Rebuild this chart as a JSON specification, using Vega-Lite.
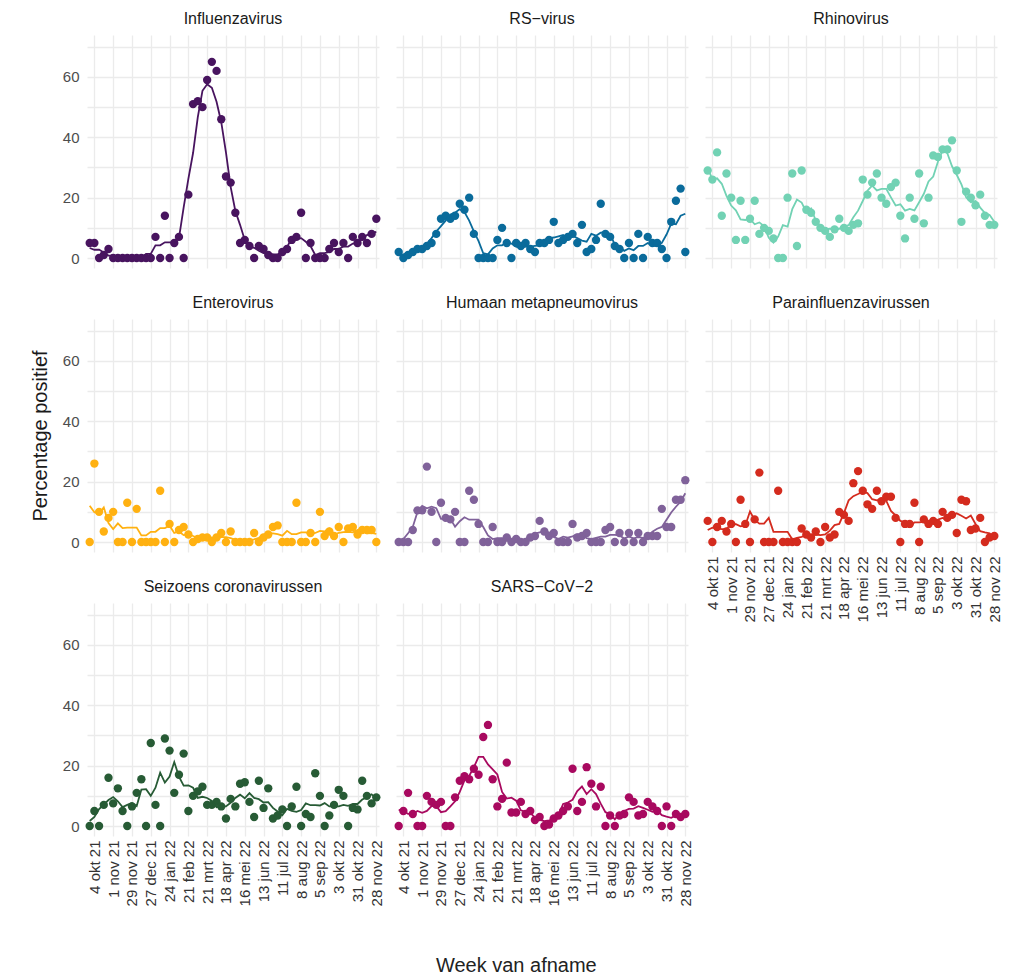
{
  "$schema": "https://vega.github.io/schema/vega-lite/v6.json",
  "datasets": {
    "d": [
{"virus":"Influenzavirus","week":"2021/09/27","pct":5},{"virus":"Influenzavirus","week":"2021/10/04","pct":5},{"virus":"Influenzavirus","week":"2021/10/11","pct":0},{"virus":"Influenzavirus","week":"2021/10/18","pct":1},{"virus":"Influenzavirus","week":"2021/10/25","pct":3},{"virus":"Influenzavirus","week":"2021/11/01","pct":0},{"virus":"Influenzavirus","week":"2021/11/08","pct":0},{"virus":"Influenzavirus","week":"2021/11/15","pct":0},{"virus":"Influenzavirus","week":"2021/11/22","pct":0},{"virus":"Influenzavirus","week":"2021/11/29","pct":0},{"virus":"Influenzavirus","week":"2021/12/06","pct":0},{"virus":"Influenzavirus","week":"2021/12/13","pct":0},{"virus":"Influenzavirus","week":"2021/12/20","pct":0},{"virus":"Influenzavirus","week":"2021/12/27","pct":0},{"virus":"Influenzavirus","week":"2022/01/03","pct":7},{"virus":"Influenzavirus","week":"2022/01/10","pct":0},{"virus":"Influenzavirus","week":"2022/01/17","pct":14},{"virus":"Influenzavirus","week":"2022/01/24","pct":0},{"virus":"Influenzavirus","week":"2022/01/31","pct":5},{"virus":"Influenzavirus","week":"2022/02/07","pct":7},{"virus":"Influenzavirus","week":"2022/02/14","pct":0},{"virus":"Influenzavirus","week":"2022/02/21","pct":21},{"virus":"Influenzavirus","week":"2022/02/28","pct":51},{"virus":"Influenzavirus","week":"2022/03/07","pct":52},{"virus":"Influenzavirus","week":"2022/03/14","pct":50},{"virus":"Influenzavirus","week":"2022/03/21","pct":59},{"virus":"Influenzavirus","week":"2022/03/28","pct":65},{"virus":"Influenzavirus","week":"2022/04/04","pct":62},{"virus":"Influenzavirus","week":"2022/04/11","pct":46},{"virus":"Influenzavirus","week":"2022/04/18","pct":27},{"virus":"Influenzavirus","week":"2022/04/25","pct":25},{"virus":"Influenzavirus","week":"2022/05/02","pct":15},{"virus":"Influenzavirus","week":"2022/05/09","pct":5},{"virus":"Influenzavirus","week":"2022/05/16","pct":6},{"virus":"Influenzavirus","week":"2022/05/23","pct":4},{"virus":"Influenzavirus","week":"2022/05/30","pct":0},{"virus":"Influenzavirus","week":"2022/06/06","pct":4},{"virus":"Influenzavirus","week":"2022/06/13","pct":3},{"virus":"Influenzavirus","week":"2022/06/20","pct":1},{"virus":"Influenzavirus","week":"2022/06/27","pct":0},{"virus":"Influenzavirus","week":"2022/07/04","pct":0},{"virus":"Influenzavirus","week":"2022/07/11","pct":2},{"virus":"Influenzavirus","week":"2022/07/18","pct":3},{"virus":"Influenzavirus","week":"2022/07/25","pct":6},{"virus":"Influenzavirus","week":"2022/08/01","pct":7},{"virus":"Influenzavirus","week":"2022/08/08","pct":15},{"virus":"Influenzavirus","week":"2022/08/15","pct":0},{"virus":"Influenzavirus","week":"2022/08/22","pct":5},{"virus":"Influenzavirus","week":"2022/08/29","pct":0},{"virus":"Influenzavirus","week":"2022/09/05","pct":0},{"virus":"Influenzavirus","week":"2022/09/12","pct":0},{"virus":"Influenzavirus","week":"2022/09/19","pct":3},{"virus":"Influenzavirus","week":"2022/09/26","pct":5},{"virus":"Influenzavirus","week":"2022/10/03","pct":2},{"virus":"Influenzavirus","week":"2022/10/10","pct":5},{"virus":"Influenzavirus","week":"2022/10/17","pct":0},{"virus":"Influenzavirus","week":"2022/10/24","pct":7},{"virus":"Influenzavirus","week":"2022/10/31","pct":5},{"virus":"Influenzavirus","week":"2022/11/07","pct":7},{"virus":"Influenzavirus","week":"2022/11/14","pct":5},{"virus":"Influenzavirus","week":"2022/11/21","pct":8},{"virus":"Influenzavirus","week":"2022/11/28","pct":13},
{"virus":"RS-virus","week":"2021/09/27","pct":2},{"virus":"RS-virus","week":"2021/10/04","pct":0},{"virus":"RS-virus","week":"2021/10/11","pct":1},{"virus":"RS-virus","week":"2021/10/18","pct":2},{"virus":"RS-virus","week":"2021/10/25","pct":3},{"virus":"RS-virus","week":"2021/11/01","pct":3},{"virus":"RS-virus","week":"2021/11/08","pct":4},{"virus":"RS-virus","week":"2021/11/15","pct":5},{"virus":"RS-virus","week":"2021/11/22","pct":8},{"virus":"RS-virus","week":"2021/11/29","pct":13},{"virus":"RS-virus","week":"2021/12/06","pct":14},{"virus":"RS-virus","week":"2021/12/13","pct":13},{"virus":"RS-virus","week":"2021/12/20","pct":14},{"virus":"RS-virus","week":"2021/12/27","pct":18},{"virus":"RS-virus","week":"2022/01/03","pct":16},{"virus":"RS-virus","week":"2022/01/10","pct":20},{"virus":"RS-virus","week":"2022/01/17","pct":8},{"virus":"RS-virus","week":"2022/01/24","pct":0},{"virus":"RS-virus","week":"2022/01/31","pct":0},{"virus":"RS-virus","week":"2022/02/07","pct":0},{"virus":"RS-virus","week":"2022/02/14","pct":0},{"virus":"RS-virus","week":"2022/02/21","pct":6},{"virus":"RS-virus","week":"2022/02/28","pct":10},{"virus":"RS-virus","week":"2022/03/07","pct":5},{"virus":"RS-virus","week":"2022/03/14","pct":0},{"virus":"RS-virus","week":"2022/03/21","pct":5},{"virus":"RS-virus","week":"2022/03/28","pct":4},{"virus":"RS-virus","week":"2022/04/04","pct":5},{"virus":"RS-virus","week":"2022/04/11","pct":3},{"virus":"RS-virus","week":"2022/04/18","pct":2},{"virus":"RS-virus","week":"2022/04/25","pct":5},{"virus":"RS-virus","week":"2022/05/02","pct":5},{"virus":"RS-virus","week":"2022/05/09","pct":6},{"virus":"RS-virus","week":"2022/05/16","pct":12},{"virus":"RS-virus","week":"2022/05/23","pct":5},{"virus":"RS-virus","week":"2022/05/30","pct":6},{"virus":"RS-virus","week":"2022/06/06","pct":7},{"virus":"RS-virus","week":"2022/06/13","pct":8},{"virus":"RS-virus","week":"2022/06/20","pct":5},{"virus":"RS-virus","week":"2022/06/27","pct":11},{"virus":"RS-virus","week":"2022/07/04","pct":2},{"virus":"RS-virus","week":"2022/07/11","pct":3},{"virus":"RS-virus","week":"2022/07/18","pct":6},{"virus":"RS-virus","week":"2022/07/25","pct":18},{"virus":"RS-virus","week":"2022/08/01","pct":8},{"virus":"RS-virus","week":"2022/08/08","pct":7},{"virus":"RS-virus","week":"2022/08/15","pct":4},{"virus":"RS-virus","week":"2022/08/22","pct":3},{"virus":"RS-virus","week":"2022/08/29","pct":0},{"virus":"RS-virus","week":"2022/09/05","pct":5},{"virus":"RS-virus","week":"2022/09/12","pct":0},{"virus":"RS-virus","week":"2022/09/19","pct":8},{"virus":"RS-virus","week":"2022/09/26","pct":0},{"virus":"RS-virus","week":"2022/10/03","pct":7},{"virus":"RS-virus","week":"2022/10/10","pct":5},{"virus":"RS-virus","week":"2022/10/17","pct":5},{"virus":"RS-virus","week":"2022/10/24","pct":3},{"virus":"RS-virus","week":"2022/10/31","pct":0},{"virus":"RS-virus","week":"2022/11/07","pct":12},{"virus":"RS-virus","week":"2022/11/14","pct":19},{"virus":"RS-virus","week":"2022/11/21","pct":23},{"virus":"RS-virus","week":"2022/11/28","pct":2},
{"virus":"Rhinovirus","week":"2021/09/27","pct":29},{"virus":"Rhinovirus","week":"2021/10/04","pct":26},{"virus":"Rhinovirus","week":"2021/10/11","pct":35},{"virus":"Rhinovirus","week":"2021/10/18","pct":14},{"virus":"Rhinovirus","week":"2021/10/25","pct":28},{"virus":"Rhinovirus","week":"2021/11/01","pct":20},{"virus":"Rhinovirus","week":"2021/11/08","pct":6},{"virus":"Rhinovirus","week":"2021/11/15","pct":19},{"virus":"Rhinovirus","week":"2021/11/22","pct":6},{"virus":"Rhinovirus","week":"2021/11/29","pct":13},{"virus":"Rhinovirus","week":"2021/12/06","pct":19},{"virus":"Rhinovirus","week":"2021/12/13","pct":8},{"virus":"Rhinovirus","week":"2021/12/20","pct":10},{"virus":"Rhinovirus","week":"2021/12/27","pct":9},{"virus":"Rhinovirus","week":"2022/01/03","pct":6.5},{"virus":"Rhinovirus","week":"2022/01/10","pct":0},{"virus":"Rhinovirus","week":"2022/01/17","pct":0},{"virus":"Rhinovirus","week":"2022/01/24","pct":20},{"virus":"Rhinovirus","week":"2022/01/31","pct":28},{"virus":"Rhinovirus","week":"2022/02/07","pct":4},{"virus":"Rhinovirus","week":"2022/02/14","pct":29},{"virus":"Rhinovirus","week":"2022/02/21","pct":16},{"virus":"Rhinovirus","week":"2022/02/28","pct":15},{"virus":"Rhinovirus","week":"2022/03/07","pct":12},{"virus":"Rhinovirus","week":"2022/03/14","pct":10},{"virus":"Rhinovirus","week":"2022/03/21","pct":9},{"virus":"Rhinovirus","week":"2022/03/28","pct":7},{"virus":"Rhinovirus","week":"2022/04/04","pct":9.5},{"virus":"Rhinovirus","week":"2022/04/11","pct":13},{"virus":"Rhinovirus","week":"2022/04/18","pct":10},{"virus":"Rhinovirus","week":"2022/04/25","pct":9},{"virus":"Rhinovirus","week":"2022/05/02","pct":11},{"virus":"Rhinovirus","week":"2022/05/09","pct":11.5},{"virus":"Rhinovirus","week":"2022/05/16","pct":26},{"virus":"Rhinovirus","week":"2022/05/23","pct":21},{"virus":"Rhinovirus","week":"2022/05/30","pct":25},{"virus":"Rhinovirus","week":"2022/06/06","pct":28},{"virus":"Rhinovirus","week":"2022/06/13","pct":20},{"virus":"Rhinovirus","week":"2022/06/20","pct":18},{"virus":"Rhinovirus","week":"2022/06/27","pct":23.5},{"virus":"Rhinovirus","week":"2022/07/04","pct":25},{"virus":"Rhinovirus","week":"2022/07/11","pct":14},{"virus":"Rhinovirus","week":"2022/07/18","pct":6.5},{"virus":"Rhinovirus","week":"2022/07/25","pct":20},{"virus":"Rhinovirus","week":"2022/08/01","pct":13},{"virus":"Rhinovirus","week":"2022/08/08","pct":28},{"virus":"Rhinovirus","week":"2022/08/15","pct":11.5},{"virus":"Rhinovirus","week":"2022/08/22","pct":20},{"virus":"Rhinovirus","week":"2022/08/29","pct":34},{"virus":"Rhinovirus","week":"2022/09/05","pct":33.5},{"virus":"Rhinovirus","week":"2022/09/12","pct":36},{"virus":"Rhinovirus","week":"2022/09/19","pct":36},{"virus":"Rhinovirus","week":"2022/09/26","pct":39},{"virus":"Rhinovirus","week":"2022/10/03","pct":29},{"virus":"Rhinovirus","week":"2022/10/10","pct":12},{"virus":"Rhinovirus","week":"2022/10/17","pct":22},{"virus":"Rhinovirus","week":"2022/10/24","pct":20},{"virus":"Rhinovirus","week":"2022/10/31","pct":17.5},{"virus":"Rhinovirus","week":"2022/11/07","pct":21},{"virus":"Rhinovirus","week":"2022/11/14","pct":14},{"virus":"Rhinovirus","week":"2022/11/21","pct":11},{"virus":"Rhinovirus","week":"2022/11/28","pct":11},
{"virus":"Enterovirus","week":"2021/09/27","pct":0},{"virus":"Enterovirus","week":"2021/10/04","pct":26},{"virus":"Enterovirus","week":"2021/10/11","pct":10},{"virus":"Enterovirus","week":"2021/10/18","pct":3.5},{"virus":"Enterovirus","week":"2021/10/25","pct":8},{"virus":"Enterovirus","week":"2021/11/01","pct":10},{"virus":"Enterovirus","week":"2021/11/08","pct":0},{"virus":"Enterovirus","week":"2021/11/15","pct":0},{"virus":"Enterovirus","week":"2021/11/22","pct":13},{"virus":"Enterovirus","week":"2021/11/29","pct":0},{"virus":"Enterovirus","week":"2021/12/06","pct":11},{"virus":"Enterovirus","week":"2021/12/13","pct":0},{"virus":"Enterovirus","week":"2021/12/20","pct":0},{"virus":"Enterovirus","week":"2021/12/27","pct":0},{"virus":"Enterovirus","week":"2022/01/03","pct":0},{"virus":"Enterovirus","week":"2022/01/10","pct":17},{"virus":"Enterovirus","week":"2022/01/17","pct":0},{"virus":"Enterovirus","week":"2022/01/24","pct":6},{"virus":"Enterovirus","week":"2022/01/31","pct":0},{"virus":"Enterovirus","week":"2022/02/07","pct":4},{"virus":"Enterovirus","week":"2022/02/14","pct":5},{"virus":"Enterovirus","week":"2022/02/21","pct":2.5},{"virus":"Enterovirus","week":"2022/02/28","pct":0},{"virus":"Enterovirus","week":"2022/03/07","pct":1},{"virus":"Enterovirus","week":"2022/03/14","pct":1.5},{"virus":"Enterovirus","week":"2022/03/21","pct":1.5},{"virus":"Enterovirus","week":"2022/03/28","pct":0},{"virus":"Enterovirus","week":"2022/04/04","pct":1.5},{"virus":"Enterovirus","week":"2022/04/11","pct":3},{"virus":"Enterovirus","week":"2022/04/18","pct":0},{"virus":"Enterovirus","week":"2022/04/25","pct":3.5},{"virus":"Enterovirus","week":"2022/05/02","pct":0},{"virus":"Enterovirus","week":"2022/05/09","pct":0},{"virus":"Enterovirus","week":"2022/05/16","pct":0},{"virus":"Enterovirus","week":"2022/05/23","pct":0},{"virus":"Enterovirus","week":"2022/05/30","pct":3},{"virus":"Enterovirus","week":"2022/06/06","pct":0},{"virus":"Enterovirus","week":"2022/06/13","pct":1.5},{"virus":"Enterovirus","week":"2022/06/20","pct":2.5},{"virus":"Enterovirus","week":"2022/06/27","pct":5},{"virus":"Enterovirus","week":"2022/07/04","pct":5.5},{"virus":"Enterovirus","week":"2022/07/11","pct":0},{"virus":"Enterovirus","week":"2022/07/18","pct":0},{"virus":"Enterovirus","week":"2022/07/25","pct":0},{"virus":"Enterovirus","week":"2022/08/01","pct":13},{"virus":"Enterovirus","week":"2022/08/08","pct":0},{"virus":"Enterovirus","week":"2022/08/15","pct":0},{"virus":"Enterovirus","week":"2022/08/22","pct":3},{"virus":"Enterovirus","week":"2022/08/29","pct":0},{"virus":"Enterovirus","week":"2022/09/05","pct":10},{"virus":"Enterovirus","week":"2022/09/12","pct":2},{"virus":"Enterovirus","week":"2022/09/19","pct":3.5},{"virus":"Enterovirus","week":"2022/09/26","pct":2},{"virus":"Enterovirus","week":"2022/10/03","pct":5},{"virus":"Enterovirus","week":"2022/10/10","pct":0},{"virus":"Enterovirus","week":"2022/10/17","pct":4.5},{"virus":"Enterovirus","week":"2022/10/24","pct":5},{"virus":"Enterovirus","week":"2022/10/31","pct":2.5},{"virus":"Enterovirus","week":"2022/11/07","pct":4},{"virus":"Enterovirus","week":"2022/11/14","pct":4},{"virus":"Enterovirus","week":"2022/11/21","pct":4},{"virus":"Enterovirus","week":"2022/11/28","pct":0},
{"virus":"Humaan metapneumovirus","week":"2021/09/27","pct":0},{"virus":"Humaan metapneumovirus","week":"2021/10/04","pct":0},{"virus":"Humaan metapneumovirus","week":"2021/10/11","pct":0},{"virus":"Humaan metapneumovirus","week":"2021/10/18","pct":4},{"virus":"Humaan metapneumovirus","week":"2021/10/25","pct":10.5},{"virus":"Humaan metapneumovirus","week":"2021/11/01","pct":10.5},{"virus":"Humaan metapneumovirus","week":"2021/11/08","pct":25},{"virus":"Humaan metapneumovirus","week":"2021/11/15","pct":10},{"virus":"Humaan metapneumovirus","week":"2021/11/22","pct":0},{"virus":"Humaan metapneumovirus","week":"2021/11/29","pct":13},{"virus":"Humaan metapneumovirus","week":"2021/12/06","pct":8},{"virus":"Humaan metapneumovirus","week":"2021/12/13","pct":7.5},{"virus":"Humaan metapneumovirus","week":"2021/12/20","pct":10},{"virus":"Humaan metapneumovirus","week":"2021/12/27","pct":0},{"virus":"Humaan metapneumovirus","week":"2022/01/03","pct":0},{"virus":"Humaan metapneumovirus","week":"2022/01/10","pct":17},{"virus":"Humaan metapneumovirus","week":"2022/01/17","pct":14},{"virus":"Humaan metapneumovirus","week":"2022/01/24","pct":6},{"virus":"Humaan metapneumovirus","week":"2022/01/31","pct":0},{"virus":"Humaan metapneumovirus","week":"2022/02/07","pct":0},{"virus":"Humaan metapneumovirus","week":"2022/02/14","pct":5},{"virus":"Humaan metapneumovirus","week":"2022/02/21","pct":0},{"virus":"Humaan metapneumovirus","week":"2022/02/28","pct":0},{"virus":"Humaan metapneumovirus","week":"2022/03/07","pct":1.5},{"virus":"Humaan metapneumovirus","week":"2022/03/14","pct":0},{"virus":"Humaan metapneumovirus","week":"2022/03/21","pct":1},{"virus":"Humaan metapneumovirus","week":"2022/03/28","pct":0},{"virus":"Humaan metapneumovirus","week":"2022/04/04","pct":0},{"virus":"Humaan metapneumovirus","week":"2022/04/11","pct":1.5},{"virus":"Humaan metapneumovirus","week":"2022/04/18","pct":2},{"virus":"Humaan metapneumovirus","week":"2022/04/25","pct":7},{"virus":"Humaan metapneumovirus","week":"2022/05/02","pct":3.5},{"virus":"Humaan metapneumovirus","week":"2022/05/09","pct":2},{"virus":"Humaan metapneumovirus","week":"2022/05/16","pct":3},{"virus":"Humaan metapneumovirus","week":"2022/05/23","pct":0},{"virus":"Humaan metapneumovirus","week":"2022/05/30","pct":0},{"virus":"Humaan metapneumovirus","week":"2022/06/06","pct":0},{"virus":"Humaan metapneumovirus","week":"2022/06/13","pct":6},{"virus":"Humaan metapneumovirus","week":"2022/06/20","pct":1.5},{"virus":"Humaan metapneumovirus","week":"2022/06/27","pct":2},{"virus":"Humaan metapneumovirus","week":"2022/07/04","pct":3},{"virus":"Humaan metapneumovirus","week":"2022/07/11","pct":0},{"virus":"Humaan metapneumovirus","week":"2022/07/18","pct":0},{"virus":"Humaan metapneumovirus","week":"2022/07/25","pct":0},{"virus":"Humaan metapneumovirus","week":"2022/08/01","pct":4},{"virus":"Humaan metapneumovirus","week":"2022/08/08","pct":5},{"virus":"Humaan metapneumovirus","week":"2022/08/15","pct":0},{"virus":"Humaan metapneumovirus","week":"2022/08/22","pct":3},{"virus":"Humaan metapneumovirus","week":"2022/08/29","pct":0},{"virus":"Humaan metapneumovirus","week":"2022/09/05","pct":3},{"virus":"Humaan metapneumovirus","week":"2022/09/12","pct":0},{"virus":"Humaan metapneumovirus","week":"2022/09/19","pct":3},{"virus":"Humaan metapneumovirus","week":"2022/09/26","pct":0},{"virus":"Humaan metapneumovirus","week":"2022/10/03","pct":2},{"virus":"Humaan metapneumovirus","week":"2022/10/10","pct":2},{"virus":"Humaan metapneumovirus","week":"2022/10/17","pct":2},{"virus":"Humaan metapneumovirus","week":"2022/10/24","pct":11},{"virus":"Humaan metapneumovirus","week":"2022/10/31","pct":5},{"virus":"Humaan metapneumovirus","week":"2022/11/07","pct":5},{"virus":"Humaan metapneumovirus","week":"2022/11/14","pct":14},{"virus":"Humaan metapneumovirus","week":"2022/11/21","pct":14},{"virus":"Humaan metapneumovirus","week":"2022/11/28","pct":20.5},
{"virus":"Parainfluenzavirussen","week":"2021/09/27","pct":7},{"virus":"Parainfluenzavirussen","week":"2021/10/04","pct":0},{"virus":"Parainfluenzavirussen","week":"2021/10/11","pct":5},{"virus":"Parainfluenzavirussen","week":"2021/10/18","pct":7},{"virus":"Parainfluenzavirussen","week":"2021/10/25","pct":3.5},{"virus":"Parainfluenzavirussen","week":"2021/11/01","pct":6},{"virus":"Parainfluenzavirussen","week":"2021/11/08","pct":0},{"virus":"Parainfluenzavirussen","week":"2021/11/15","pct":14},{"virus":"Parainfluenzavirussen","week":"2021/11/22","pct":6},{"virus":"Parainfluenzavirussen","week":"2021/11/29","pct":0},{"virus":"Parainfluenzavirussen","week":"2021/12/06","pct":7.5},{"virus":"Parainfluenzavirussen","week":"2021/12/13","pct":23},{"virus":"Parainfluenzavirussen","week":"2021/12/20","pct":0},{"virus":"Parainfluenzavirussen","week":"2021/12/27","pct":0},{"virus":"Parainfluenzavirussen","week":"2022/01/03","pct":0},{"virus":"Parainfluenzavirussen","week":"2022/01/10","pct":17},{"virus":"Parainfluenzavirussen","week":"2022/01/17","pct":0},{"virus":"Parainfluenzavirussen","week":"2022/01/24","pct":0},{"virus":"Parainfluenzavirussen","week":"2022/01/31","pct":0},{"virus":"Parainfluenzavirussen","week":"2022/02/07","pct":0},{"virus":"Parainfluenzavirussen","week":"2022/02/14","pct":4.5},{"virus":"Parainfluenzavirussen","week":"2022/02/21","pct":2.5},{"virus":"Parainfluenzavirussen","week":"2022/02/28","pct":1.5},{"virus":"Parainfluenzavirussen","week":"2022/03/07","pct":3.5},{"virus":"Parainfluenzavirussen","week":"2022/03/14","pct":0},{"virus":"Parainfluenzavirussen","week":"2022/03/21","pct":5},{"virus":"Parainfluenzavirussen","week":"2022/03/28","pct":1.5},{"virus":"Parainfluenzavirussen","week":"2022/04/04","pct":2.5},{"virus":"Parainfluenzavirussen","week":"2022/04/11","pct":10},{"virus":"Parainfluenzavirussen","week":"2022/04/18","pct":9},{"virus":"Parainfluenzavirussen","week":"2022/04/25","pct":7},{"virus":"Parainfluenzavirussen","week":"2022/05/02","pct":19.5},{"virus":"Parainfluenzavirussen","week":"2022/05/09","pct":23.5},{"virus":"Parainfluenzavirussen","week":"2022/05/16","pct":17},{"virus":"Parainfluenzavirussen","week":"2022/05/23","pct":12.5},{"virus":"Parainfluenzavirussen","week":"2022/05/30","pct":11},{"virus":"Parainfluenzavirussen","week":"2022/06/06","pct":17},{"virus":"Parainfluenzavirussen","week":"2022/06/13","pct":13.5},{"virus":"Parainfluenzavirussen","week":"2022/06/20","pct":15},{"virus":"Parainfluenzavirussen","week":"2022/06/27","pct":15},{"virus":"Parainfluenzavirussen","week":"2022/07/04","pct":8},{"virus":"Parainfluenzavirussen","week":"2022/07/11","pct":0},{"virus":"Parainfluenzavirussen","week":"2022/07/18","pct":6},{"virus":"Parainfluenzavirussen","week":"2022/07/25","pct":6},{"virus":"Parainfluenzavirussen","week":"2022/08/01","pct":13},{"virus":"Parainfluenzavirussen","week":"2022/08/08","pct":0},{"virus":"Parainfluenzavirussen","week":"2022/08/15","pct":7.5},{"virus":"Parainfluenzavirussen","week":"2022/08/22","pct":6},{"virus":"Parainfluenzavirussen","week":"2022/08/29","pct":7},{"virus":"Parainfluenzavirussen","week":"2022/09/05","pct":6},{"virus":"Parainfluenzavirussen","week":"2022/09/12","pct":10},{"virus":"Parainfluenzavirussen","week":"2022/09/19","pct":8},{"virus":"Parainfluenzavirussen","week":"2022/09/26","pct":9},{"virus":"Parainfluenzavirussen","week":"2022/10/03","pct":3},{"virus":"Parainfluenzavirussen","week":"2022/10/10","pct":14},{"virus":"Parainfluenzavirussen","week":"2022/10/17","pct":13.5},{"virus":"Parainfluenzavirussen","week":"2022/10/24","pct":4},{"virus":"Parainfluenzavirussen","week":"2022/10/31","pct":4.5},{"virus":"Parainfluenzavirussen","week":"2022/11/07","pct":8},{"virus":"Parainfluenzavirussen","week":"2022/11/14","pct":0},{"virus":"Parainfluenzavirussen","week":"2022/11/21","pct":1.5},{"virus":"Parainfluenzavirussen","week":"2022/11/28","pct":2},
{"virus":"Seizoens coronavirussen","week":"2021/09/27","pct":0},{"virus":"Seizoens coronavirussen","week":"2021/10/04","pct":5},{"virus":"Seizoens coronavirussen","week":"2021/10/11","pct":0},{"virus":"Seizoens coronavirussen","week":"2021/10/18","pct":7},{"virus":"Seizoens coronavirussen","week":"2021/10/25","pct":16},{"virus":"Seizoens coronavirussen","week":"2021/11/01","pct":7.5},{"virus":"Seizoens coronavirussen","week":"2021/11/08","pct":12.5},{"virus":"Seizoens coronavirussen","week":"2021/11/15","pct":5},{"virus":"Seizoens coronavirussen","week":"2021/11/22","pct":0},{"virus":"Seizoens coronavirussen","week":"2021/11/29","pct":6.5},{"virus":"Seizoens coronavirussen","week":"2021/12/06","pct":11},{"virus":"Seizoens coronavirussen","week":"2021/12/13","pct":15.5},{"virus":"Seizoens coronavirussen","week":"2021/12/20","pct":0},{"virus":"Seizoens coronavirussen","week":"2021/12/27","pct":27.5},{"virus":"Seizoens coronavirussen","week":"2022/01/03","pct":7},{"virus":"Seizoens coronavirussen","week":"2022/01/10","pct":0},{"virus":"Seizoens coronavirussen","week":"2022/01/17","pct":29},{"virus":"Seizoens coronavirussen","week":"2022/01/24","pct":25},{"virus":"Seizoens coronavirussen","week":"2022/01/31","pct":11},{"virus":"Seizoens coronavirussen","week":"2022/02/07","pct":17},{"virus":"Seizoens coronavirussen","week":"2022/02/14","pct":24},{"virus":"Seizoens coronavirussen","week":"2022/02/21","pct":5},{"virus":"Seizoens coronavirussen","week":"2022/02/28","pct":10},{"virus":"Seizoens coronavirussen","week":"2022/03/07","pct":11.5},{"virus":"Seizoens coronavirussen","week":"2022/03/14","pct":13},{"virus":"Seizoens coronavirussen","week":"2022/03/21","pct":7},{"virus":"Seizoens coronavirussen","week":"2022/03/28","pct":7},{"virus":"Seizoens coronavirussen","week":"2022/04/04","pct":8},{"virus":"Seizoens coronavirussen","week":"2022/04/11","pct":6.5},{"virus":"Seizoens coronavirussen","week":"2022/04/18","pct":2.5},{"virus":"Seizoens coronavirussen","week":"2022/04/25","pct":9},{"virus":"Seizoens coronavirussen","week":"2022/05/02","pct":6.5},{"virus":"Seizoens coronavirussen","week":"2022/05/09","pct":14},{"virus":"Seizoens coronavirussen","week":"2022/05/16","pct":14.5},{"virus":"Seizoens coronavirussen","week":"2022/05/23","pct":8},{"virus":"Seizoens coronavirussen","week":"2022/05/30","pct":3},{"virus":"Seizoens coronavirussen","week":"2022/06/06","pct":15},{"virus":"Seizoens coronavirussen","week":"2022/06/13","pct":6},{"virus":"Seizoens coronavirussen","week":"2022/06/20","pct":12.5},{"virus":"Seizoens coronavirussen","week":"2022/06/27","pct":2.5},{"virus":"Seizoens coronavirussen","week":"2022/07/04","pct":3.5},{"virus":"Seizoens coronavirussen","week":"2022/07/11","pct":5.5},{"virus":"Seizoens coronavirussen","week":"2022/07/18","pct":0},{"virus":"Seizoens coronavirussen","week":"2022/07/25","pct":6.5},{"virus":"Seizoens coronavirussen","week":"2022/08/01","pct":13},{"virus":"Seizoens coronavirussen","week":"2022/08/08","pct":0},{"virus":"Seizoens coronavirussen","week":"2022/08/15","pct":4},{"virus":"Seizoens coronavirussen","week":"2022/08/22","pct":3},{"virus":"Seizoens coronavirussen","week":"2022/08/29","pct":17.5},{"virus":"Seizoens coronavirussen","week":"2022/09/05","pct":10},{"virus":"Seizoens coronavirussen","week":"2022/09/12","pct":0},{"virus":"Seizoens coronavirussen","week":"2022/09/19","pct":3.5},{"virus":"Seizoens coronavirussen","week":"2022/09/26","pct":7},{"virus":"Seizoens coronavirussen","week":"2022/10/03","pct":12},{"virus":"Seizoens coronavirussen","week":"2022/10/10","pct":10},{"virus":"Seizoens coronavirussen","week":"2022/10/17","pct":0},{"virus":"Seizoens coronavirussen","week":"2022/10/24","pct":6},{"virus":"Seizoens coronavirussen","week":"2022/10/31","pct":5.5},{"virus":"Seizoens coronavirussen","week":"2022/11/07","pct":15},{"virus":"Seizoens coronavirussen","week":"2022/11/14","pct":10},{"virus":"Seizoens coronavirussen","week":"2022/11/21","pct":7.5},{"virus":"Seizoens coronavirussen","week":"2022/11/28","pct":9.5},
{"virus":"SARS-CoV-2","week":"2021/09/27","pct":0},{"virus":"SARS-CoV-2","week":"2021/10/04","pct":5},{"virus":"SARS-CoV-2","week":"2021/10/11","pct":11},{"virus":"SARS-CoV-2","week":"2021/10/18","pct":4},{"virus":"SARS-CoV-2","week":"2021/10/25","pct":0},{"virus":"SARS-CoV-2","week":"2021/11/01","pct":0},{"virus":"SARS-CoV-2","week":"2021/11/08","pct":10},{"virus":"SARS-CoV-2","week":"2021/11/15","pct":8},{"virus":"SARS-CoV-2","week":"2021/11/22","pct":7},{"virus":"SARS-CoV-2","week":"2021/11/29","pct":8},{"virus":"SARS-CoV-2","week":"2021/12/06","pct":0},{"virus":"SARS-CoV-2","week":"2021/12/13","pct":0},{"virus":"SARS-CoV-2","week":"2021/12/20","pct":9.5},{"virus":"SARS-CoV-2","week":"2021/12/27","pct":15},{"virus":"SARS-CoV-2","week":"2022/01/03","pct":16.5},{"virus":"SARS-CoV-2","week":"2022/01/10","pct":15.5},{"virus":"SARS-CoV-2","week":"2022/01/17","pct":19},{"virus":"SARS-CoV-2","week":"2022/01/24","pct":17},{"virus":"SARS-CoV-2","week":"2022/01/31","pct":29.5},{"virus":"SARS-CoV-2","week":"2022/02/07","pct":33.5},{"virus":"SARS-CoV-2","week":"2022/02/14","pct":15.5},{"virus":"SARS-CoV-2","week":"2022/02/21","pct":6.5},{"virus":"SARS-CoV-2","week":"2022/02/28","pct":9},{"virus":"SARS-CoV-2","week":"2022/03/07","pct":21},{"virus":"SARS-CoV-2","week":"2022/03/14","pct":4.5},{"virus":"SARS-CoV-2","week":"2022/03/21","pct":4.5},{"virus":"SARS-CoV-2","week":"2022/03/28","pct":8},{"virus":"SARS-CoV-2","week":"2022/04/04","pct":4},{"virus":"SARS-CoV-2","week":"2022/04/11","pct":5},{"virus":"SARS-CoV-2","week":"2022/04/18","pct":2},{"virus":"SARS-CoV-2","week":"2022/04/25","pct":3},{"virus":"SARS-CoV-2","week":"2022/05/02","pct":0},{"virus":"SARS-CoV-2","week":"2022/05/09","pct":0.5},{"virus":"SARS-CoV-2","week":"2022/05/16","pct":2.5},{"virus":"SARS-CoV-2","week":"2022/05/23","pct":3.5},{"virus":"SARS-CoV-2","week":"2022/05/30","pct":5},{"virus":"SARS-CoV-2","week":"2022/06/06","pct":6.5},{"virus":"SARS-CoV-2","week":"2022/06/13","pct":19},{"virus":"SARS-CoV-2","week":"2022/06/20","pct":5},{"virus":"SARS-CoV-2","week":"2022/06/27","pct":8},{"virus":"SARS-CoV-2","week":"2022/07/04","pct":19.5},{"virus":"SARS-CoV-2","week":"2022/07/11","pct":14},{"virus":"SARS-CoV-2","week":"2022/07/18","pct":6.5},{"virus":"SARS-CoV-2","week":"2022/07/25","pct":13},{"virus":"SARS-CoV-2","week":"2022/08/01","pct":0},{"virus":"SARS-CoV-2","week":"2022/08/08","pct":3.5},{"virus":"SARS-CoV-2","week":"2022/08/15","pct":0},{"virus":"SARS-CoV-2","week":"2022/08/22","pct":3.5},{"virus":"SARS-CoV-2","week":"2022/08/29","pct":4},{"virus":"SARS-CoV-2","week":"2022/09/05","pct":9.5},{"virus":"SARS-CoV-2","week":"2022/09/12","pct":8},{"virus":"SARS-CoV-2","week":"2022/09/19","pct":3.5},{"virus":"SARS-CoV-2","week":"2022/09/26","pct":4},{"virus":"SARS-CoV-2","week":"2022/10/03","pct":8},{"virus":"SARS-CoV-2","week":"2022/10/10","pct":6.5},{"virus":"SARS-CoV-2","week":"2022/10/17","pct":5},{"virus":"SARS-CoV-2","week":"2022/10/24","pct":0},{"virus":"SARS-CoV-2","week":"2022/10/31","pct":6.5},{"virus":"SARS-CoV-2","week":"2022/11/07","pct":0},{"virus":"SARS-CoV-2","week":"2022/11/14","pct":4},{"virus":"SARS-CoV-2","week":"2022/11/21","pct":3},{"virus":"SARS-CoV-2","week":"2022/11/28","pct":4}
    ]
  },
  "data": {"name": "d"},
  "padding": {"left": 30, "top": 11, "right": 5, "bottom": 5},
  "title": {"text": "Week van afname", "orient": "bottom", "anchor": "middle", "fontSize": 20, "fontWeight": "normal", "color": "#222222", "offset": 50},
  "columns": 3,
  "bounds": "flush",
  "spacing": {"row": 51, "column": 17},
  "concat": [
    {"title": "Influenzavirus", "width": 292, "height": 233,
     "transform": [{"filter": "datum.virus === 'Influenzavirus'"}, {"window": [{"op": "mean", "field": "pct", "as": "avg"}], "frame": [-2, 2], "sort": [{"field": "week"}]}],
     "encoding": {"x": {"field": "week", "type": "temporal", "scale": {"domain": [{"year": 2021, "month": 9, "date": 23}, {"year": 2022, "month": 12, "date": 2}]}, "axis": {"labels": false, "title": null, "values": [{"year": 2021, "month": 10, "date": 4}, {"year": 2021, "month": 11, "date": 1}, {"year": 2021, "month": 11, "date": 29}, {"year": 2021, "month": 12, "date": 27}, {"year": 2022, "month": 1, "date": 24}, {"year": 2022, "month": 2, "date": 21}, {"year": 2022, "month": 3, "date": 21}, {"year": 2022, "month": 4, "date": 18}, {"year": 2022, "month": 5, "date": 16}, {"year": 2022, "month": 6, "date": 13}, {"year": 2022, "month": 7, "date": 11}, {"year": 2022, "month": 8, "date": 8}, {"year": 2022, "month": 9, "date": 5}, {"year": 2022, "month": 10, "date": 3}, {"year": 2022, "month": 10, "date": 31}, {"year": 2022, "month": 11, "date": 28}]}},
                  "y": {"field": "pct", "type": "quantitative", "scale": {"domain": [-3.3, 73.9], "nice": false, "zero": false}, "axis": {"title": null, "values": [0, 10, 20, 30, 40, 50, 60, 70]}}},
     "layer": [{"mark": {"type": "point", "filled": true, "size": 70, "opacity": 1, "color": "#48145f"}},
               {"mark": {"type": "line", "strokeWidth": 1.8, "color": "#48145f"}, "encoding": {"y": {"field": "avg", "type": "quantitative"}}}]},
    {"title": "RS\u2212virus", "width": 292, "height": 233,
     "transform": [{"filter": "datum.virus === 'RS-virus'"}, {"window": [{"op": "mean", "field": "pct", "as": "avg"}], "frame": [-2, 2], "sort": [{"field": "week"}]}],
     "encoding": {"x": {"field": "week", "type": "temporal", "scale": {"domain": [{"year": 2021, "month": 9, "date": 23}, {"year": 2022, "month": 12, "date": 2}]}, "axis": {"labels": false, "title": null, "values": [{"year": 2021, "month": 10, "date": 4}, {"year": 2021, "month": 11, "date": 1}, {"year": 2021, "month": 11, "date": 29}, {"year": 2021, "month": 12, "date": 27}, {"year": 2022, "month": 1, "date": 24}, {"year": 2022, "month": 2, "date": 21}, {"year": 2022, "month": 3, "date": 21}, {"year": 2022, "month": 4, "date": 18}, {"year": 2022, "month": 5, "date": 16}, {"year": 2022, "month": 6, "date": 13}, {"year": 2022, "month": 7, "date": 11}, {"year": 2022, "month": 8, "date": 8}, {"year": 2022, "month": 9, "date": 5}, {"year": 2022, "month": 10, "date": 3}, {"year": 2022, "month": 10, "date": 31}, {"year": 2022, "month": 11, "date": 28}]}},
                  "y": {"field": "pct", "type": "quantitative", "scale": {"domain": [-3.3, 73.9], "nice": false, "zero": false}, "axis": {"labels": false, "title": null, "values": [0, 10, 20, 30, 40, 50, 60, 70]}}},
     "layer": [{"mark": {"type": "point", "filled": true, "size": 70, "opacity": 1, "color": "#0a6b9b"}},
               {"mark": {"type": "line", "strokeWidth": 1.8, "color": "#0a6b9b"}, "encoding": {"y": {"field": "avg", "type": "quantitative"}}}]},
    {"title": "Rhinovirus", "width": 292, "height": 233,
     "transform": [{"filter": "datum.virus === 'Rhinovirus'"}, {"window": [{"op": "mean", "field": "pct", "as": "avg"}], "frame": [-2, 2], "sort": [{"field": "week"}]}],
     "encoding": {"x": {"field": "week", "type": "temporal", "scale": {"domain": [{"year": 2021, "month": 9, "date": 23}, {"year": 2022, "month": 12, "date": 2}]}, "axis": {"labels": false, "title": null, "values": [{"year": 2021, "month": 10, "date": 4}, {"year": 2021, "month": 11, "date": 1}, {"year": 2021, "month": 11, "date": 29}, {"year": 2021, "month": 12, "date": 27}, {"year": 2022, "month": 1, "date": 24}, {"year": 2022, "month": 2, "date": 21}, {"year": 2022, "month": 3, "date": 21}, {"year": 2022, "month": 4, "date": 18}, {"year": 2022, "month": 5, "date": 16}, {"year": 2022, "month": 6, "date": 13}, {"year": 2022, "month": 7, "date": 11}, {"year": 2022, "month": 8, "date": 8}, {"year": 2022, "month": 9, "date": 5}, {"year": 2022, "month": 10, "date": 3}, {"year": 2022, "month": 10, "date": 31}, {"year": 2022, "month": 11, "date": 28}]}},
                  "y": {"field": "pct", "type": "quantitative", "scale": {"domain": [-3.3, 73.9], "nice": false, "zero": false}, "axis": {"labels": false, "title": null, "values": [0, 10, 20, 30, 40, 50, 60, 70]}}},
     "layer": [{"mark": {"type": "point", "filled": true, "size": 70, "opacity": 1, "color": "#72d2b4"}},
               {"mark": {"type": "line", "strokeWidth": 1.8, "color": "#72d2b4"}, "encoding": {"y": {"field": "avg", "type": "quantitative"}}}]},
    {"title": "Enterovirus", "width": 292, "height": 233,
     "transform": [{"filter": "datum.virus === 'Enterovirus'"}, {"window": [{"op": "mean", "field": "pct", "as": "avg"}], "frame": [-2, 2], "sort": [{"field": "week"}]}],
     "encoding": {"x": {"field": "week", "type": "temporal", "scale": {"domain": [{"year": 2021, "month": 9, "date": 23}, {"year": 2022, "month": 12, "date": 2}]}, "axis": {"labels": false, "title": null, "values": [{"year": 2021, "month": 10, "date": 4}, {"year": 2021, "month": 11, "date": 1}, {"year": 2021, "month": 11, "date": 29}, {"year": 2021, "month": 12, "date": 27}, {"year": 2022, "month": 1, "date": 24}, {"year": 2022, "month": 2, "date": 21}, {"year": 2022, "month": 3, "date": 21}, {"year": 2022, "month": 4, "date": 18}, {"year": 2022, "month": 5, "date": 16}, {"year": 2022, "month": 6, "date": 13}, {"year": 2022, "month": 7, "date": 11}, {"year": 2022, "month": 8, "date": 8}, {"year": 2022, "month": 9, "date": 5}, {"year": 2022, "month": 10, "date": 3}, {"year": 2022, "month": 10, "date": 31}, {"year": 2022, "month": 11, "date": 28}]}},
                  "y": {"field": "pct", "type": "quantitative", "scale": {"domain": [-3.3, 73.9], "nice": false, "zero": false}, "axis": {"title": "Percentage positief", "values": [0, 10, 20, 30, 40, 50, 60, 70]}}},
     "layer": [{"mark": {"type": "point", "filled": true, "size": 70, "opacity": 1, "color": "#ffb111"}},
               {"mark": {"type": "line", "strokeWidth": 1.8, "color": "#ffb111"}, "encoding": {"y": {"field": "avg", "type": "quantitative"}}}]},
    {"title": "Humaan metapneumovirus", "width": 292, "height": 233,
     "transform": [{"filter": "datum.virus === 'Humaan metapneumovirus'"}, {"window": [{"op": "mean", "field": "pct", "as": "avg"}], "frame": [-2, 2], "sort": [{"field": "week"}]}],
     "encoding": {"x": {"field": "week", "type": "temporal", "scale": {"domain": [{"year": 2021, "month": 9, "date": 23}, {"year": 2022, "month": 12, "date": 2}]}, "axis": {"labels": false, "title": null, "values": [{"year": 2021, "month": 10, "date": 4}, {"year": 2021, "month": 11, "date": 1}, {"year": 2021, "month": 11, "date": 29}, {"year": 2021, "month": 12, "date": 27}, {"year": 2022, "month": 1, "date": 24}, {"year": 2022, "month": 2, "date": 21}, {"year": 2022, "month": 3, "date": 21}, {"year": 2022, "month": 4, "date": 18}, {"year": 2022, "month": 5, "date": 16}, {"year": 2022, "month": 6, "date": 13}, {"year": 2022, "month": 7, "date": 11}, {"year": 2022, "month": 8, "date": 8}, {"year": 2022, "month": 9, "date": 5}, {"year": 2022, "month": 10, "date": 3}, {"year": 2022, "month": 10, "date": 31}, {"year": 2022, "month": 11, "date": 28}]}},
                  "y": {"field": "pct", "type": "quantitative", "scale": {"domain": [-3.3, 73.9], "nice": false, "zero": false}, "axis": {"labels": false, "title": null, "values": [0, 10, 20, 30, 40, 50, 60, 70]}}},
     "layer": [{"mark": {"type": "point", "filled": true, "size": 70, "opacity": 1, "color": "#80629a"}},
               {"mark": {"type": "line", "strokeWidth": 1.8, "color": "#80629a"}, "encoding": {"y": {"field": "avg", "type": "quantitative"}}}]},
    {"title": "Parainfluenzavirussen", "width": 292, "height": 233,
     "transform": [{"filter": "datum.virus === 'Parainfluenzavirussen'"}, {"window": [{"op": "mean", "field": "pct", "as": "avg"}], "frame": [-2, 2], "sort": [{"field": "week"}]}],
     "encoding": {"x": {"field": "week", "type": "temporal", "scale": {"domain": [{"year": 2021, "month": 9, "date": 23}, {"year": 2022, "month": 12, "date": 2}]}, "axis": {"title": null, "values": [{"year": 2021, "month": 10, "date": 4}, {"year": 2021, "month": 11, "date": 1}, {"year": 2021, "month": 11, "date": 29}, {"year": 2021, "month": 12, "date": 27}, {"year": 2022, "month": 1, "date": 24}, {"year": 2022, "month": 2, "date": 21}, {"year": 2022, "month": 3, "date": 21}, {"year": 2022, "month": 4, "date": 18}, {"year": 2022, "month": 5, "date": 16}, {"year": 2022, "month": 6, "date": 13}, {"year": 2022, "month": 7, "date": 11}, {"year": 2022, "month": 8, "date": 8}, {"year": 2022, "month": 9, "date": 5}, {"year": 2022, "month": 10, "date": 3}, {"year": 2022, "month": 10, "date": 31}, {"year": 2022, "month": 11, "date": 28}]}},
                  "y": {"field": "pct", "type": "quantitative", "scale": {"domain": [-3.3, 73.9], "nice": false, "zero": false}, "axis": {"labels": false, "title": null, "values": [0, 10, 20, 30, 40, 50, 60, 70]}}},
     "layer": [{"mark": {"type": "point", "filled": true, "size": 70, "opacity": 1, "color": "#d42b1e"}},
               {"mark": {"type": "line", "strokeWidth": 1.8, "color": "#d42b1e"}, "encoding": {"y": {"field": "avg", "type": "quantitative"}}}]},
    {"title": "Seizoens coronavirussen", "width": 292, "height": 233,
     "transform": [{"filter": "datum.virus === 'Seizoens coronavirussen'"}, {"window": [{"op": "mean", "field": "pct", "as": "avg"}], "frame": [-2, 2], "sort": [{"field": "week"}]}],
     "encoding": {"x": {"field": "week", "type": "temporal", "scale": {"domain": [{"year": 2021, "month": 9, "date": 23}, {"year": 2022, "month": 12, "date": 2}]}, "axis": {"title": null, "values": [{"year": 2021, "month": 10, "date": 4}, {"year": 2021, "month": 11, "date": 1}, {"year": 2021, "month": 11, "date": 29}, {"year": 2021, "month": 12, "date": 27}, {"year": 2022, "month": 1, "date": 24}, {"year": 2022, "month": 2, "date": 21}, {"year": 2022, "month": 3, "date": 21}, {"year": 2022, "month": 4, "date": 18}, {"year": 2022, "month": 5, "date": 16}, {"year": 2022, "month": 6, "date": 13}, {"year": 2022, "month": 7, "date": 11}, {"year": 2022, "month": 8, "date": 8}, {"year": 2022, "month": 9, "date": 5}, {"year": 2022, "month": 10, "date": 3}, {"year": 2022, "month": 10, "date": 31}, {"year": 2022, "month": 11, "date": 28}]}},
                  "y": {"field": "pct", "type": "quantitative", "scale": {"domain": [-3.3, 73.9], "nice": false, "zero": false}, "axis": {"title": null, "values": [0, 10, 20, 30, 40, 50, 60, 70]}}},
     "layer": [{"mark": {"type": "point", "filled": true, "size": 70, "opacity": 1, "color": "#275b35"}},
               {"mark": {"type": "line", "strokeWidth": 1.8, "color": "#275b35"}, "encoding": {"y": {"field": "avg", "type": "quantitative"}}}]},
    {"title": "SARS\u2212CoV\u22122", "width": 292, "height": 233,
     "transform": [{"filter": "datum.virus === 'SARS-CoV-2'"}, {"window": [{"op": "mean", "field": "pct", "as": "avg"}], "frame": [-2, 2], "sort": [{"field": "week"}]}],
     "encoding": {"x": {"field": "week", "type": "temporal", "scale": {"domain": [{"year": 2021, "month": 9, "date": 23}, {"year": 2022, "month": 12, "date": 2}]}, "axis": {"title": null, "values": [{"year": 2021, "month": 10, "date": 4}, {"year": 2021, "month": 11, "date": 1}, {"year": 2021, "month": 11, "date": 29}, {"year": 2021, "month": 12, "date": 27}, {"year": 2022, "month": 1, "date": 24}, {"year": 2022, "month": 2, "date": 21}, {"year": 2022, "month": 3, "date": 21}, {"year": 2022, "month": 4, "date": 18}, {"year": 2022, "month": 5, "date": 16}, {"year": 2022, "month": 6, "date": 13}, {"year": 2022, "month": 7, "date": 11}, {"year": 2022, "month": 8, "date": 8}, {"year": 2022, "month": 9, "date": 5}, {"year": 2022, "month": 10, "date": 3}, {"year": 2022, "month": 10, "date": 31}, {"year": 2022, "month": 11, "date": 28}]}},
                  "y": {"field": "pct", "type": "quantitative", "scale": {"domain": [-3.3, 73.9], "nice": false, "zero": false}, "axis": {"labels": false, "title": null, "values": [0, 10, 20, 30, 40, 50, 60, 70]}}},
     "layer": [{"mark": {"type": "point", "filled": true, "size": 70, "opacity": 1, "color": "#a8095f"}},
               {"mark": {"type": "line", "strokeWidth": 1.8, "color": "#a8095f"}, "encoding": {"y": {"field": "avg", "type": "quantitative"}}}]}
  ],
  "config": {
    "font": "Liberation Sans",
    "view": {"stroke": null},
    "title": {"fontSize": 16, "fontWeight": "normal", "color": "#1a1a1a", "offset": 8},
    "locale": {
      "time": {
        "dateTime": "%a %e %B %Y %X", "date": "%d-%m-%Y", "time": "%H:%M:%S", "periods": ["AM", "PM"],
        "days": ["zondag", "maandag", "dinsdag", "woensdag", "donderdag", "vrijdag", "zaterdag"],
        "shortDays": ["zo", "ma", "di", "wo", "do", "vr", "za"],
        "months": ["januari", "februari", "maart", "april", "mei", "juni", "juli", "augustus", "september", "oktober", "november", "december"],
        "shortMonths": ["jan", "feb", "mrt", "apr", "mei", "jun", "jul", "aug", "sep", "okt", "nov", "dec"]
      }
    },
    "axisX": {
      "format": "%-d %b %y", "labelAngle": 270, "labelAlign": "right", "labelBaseline": "middle",
      "labelFontSize": 15, "labelColor": "#333333", "labelPadding": 4, "labelOverlap": false, "labelFlush": false
    },
    "axisY": {
      "labelExpr": "datum.value % 20 === 0 ? datum.label : ''",
      "labelFontSize": 15, "labelColor": "#4d4d4d", "labelPadding": 8,
      "titleFontSize": 20, "titleFontWeight": "normal", "titleColor": "#1a1a1a", "titlePadding": 12
    },
    "axis": {"domain": false, "ticks": false, "grid": true, "gridColor": "#ebebeb", "gridWidth": 1.3}
  }
}
